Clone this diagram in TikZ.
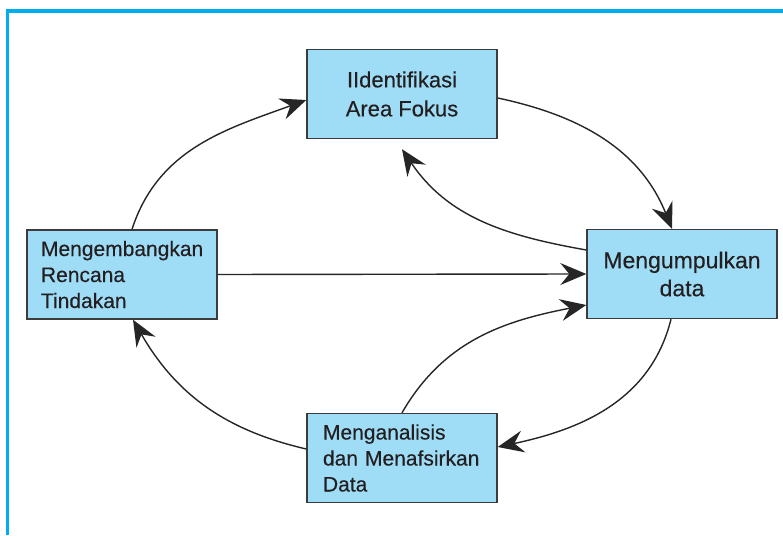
\documentclass[tikz,border=0pt]{standalone}
\usepackage{fontspec}
\setmainfont{Liberation Sans}[FakeBold=0.3]
\usetikzlibrary{arrows.meta}
\definecolor{kotakbiru}{HTML}{9FDCF6}
\definecolor{garisbiru}{HTML}{00AEEF}
\definecolor{tepi}{HTML}{3C3C3C}
\definecolor{teks}{HTML}{231F20}

\begin{document}
\begin{tikzpicture}[x=1pt,y=1pt,
    kotak/.style={draw=tepi, line width=1.4pt, fill=kotakbiru, text=teks,
        minimum width=190pt, minimum height=89pt, inner sep=0pt},
    panah/.style={draw=black!85, line width=1.4pt,
        -{Stealth[length=26pt,width=22pt,inset=9pt]}}]
    \useasboundingbox (0,0) rectangle (783,535);
    % Frame
    \fill[garisbiru] (6,0) rectangle (9,526);
    \fill[garisbiru] (6,522) rectangle (783,526);
    % Boxes
    \node[kotak, align=center, font=\fontsize{22}{29}\selectfont] (ident) at (402,441) {IIdentifikasi\\Area Fokus};
    \node[kotak, align=left, text width=162pt, inner xsep=14pt, font=\fontsize{21}{26}\selectfont] (rencana) at (122,260.5) {Mengembangkan\\Rencana\\Tindakan};
    \node[kotak, align=center, font=\fontsize{23}{28}\selectfont] (kumpul) at (682,261) {Mengumpulkan\\data};
    \node[kotak, align=left, text width=158pt, inner xsep=16pt, font=\fontsize{21}{26}\selectfont] (analisis) at (402,77) {Menganalisis\\dan Menafsirkan\\Data};
    % Free end under the top box
    \coordinate (bawahident) at ([yshift=-10pt]ident.south);
    % Arrows
    \draw[panah] ([xshift=10pt]rencana.north) to[out=72, in=200] ([yshift=-6pt]ident.west);
    \draw[panah] ([yshift=-4pt]ident.east) to[out=-12, in=112] ([xshift=-10pt]kumpul.north);
    \draw[panah] ([yshift=24pt]kumpul.west) to[out=170, in=-56] (bawahident);
    \draw[panah] (rencana.east) -- (kumpul.west);
    \draw[panah] (analisis.north) to[out=60, in=191] ([yshift=-31pt]kumpul.west);
    \draw[panah] ([xshift=-11pt]kumpul.south) to[out=-104, in=12] ([yshift=11pt]analisis.east);
    \draw[panah] ([yshift=9pt]analisis.west) to[out=167, in=-60] ([xshift=11pt]rencana.south);
\end{tikzpicture}
\end{document}
